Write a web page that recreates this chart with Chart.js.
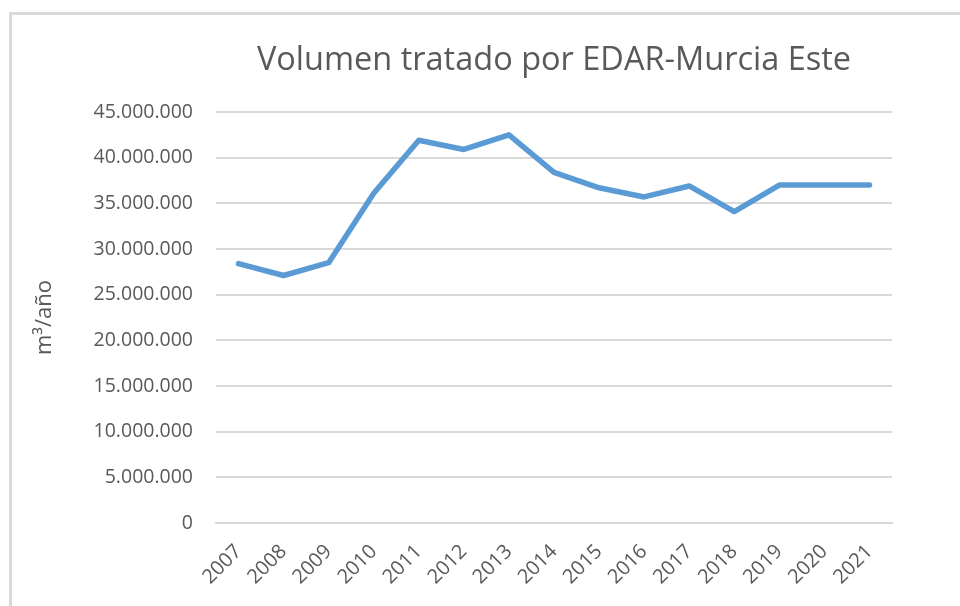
<!DOCTYPE html>
<html lang="es">
<head>
<meta charset="utf-8">
<title>Volumen tratado por EDAR-Murcia Este</title>
<script src="https://cdn.jsdelivr.net/npm/chart.js@4/dist/chart.umd.min.js"></script>
<style>
  html, body { margin: 0; padding: 0; background: #fff; }
  #wrap { position: relative; width: 960px; height: 606px; overflow: hidden; }
  #frame {
    position: absolute; left: 9px; top: 12px; right: -4px; bottom: -4px;
    border-left: 3px solid #d9d9d9; border-top: 3px solid #d9d9d9;
  }
  canvas { position: absolute; left: 0; top: 0; }
</style>
</head>
<body>
<div id="wrap">
  <div id="frame"></div>
  <canvas id="chart" width="960" height="606"></canvas>
</div>
<script>
(function () {
  const years = ['2007', '2008', '2009', '2010', '2011', '2012', '2013', '2014',
    '2015', '2016', '2017', '2018', '2019', '2020', '2021'];

  // m³/año
  const volumes = [28400000, 27100000, 28500000, 36100000, 41900000, 40900000, 42500000,
    38400000, 36700000, 35700000, 36900000, 34100000, 37000000, 37000000, 37000000];

  const yMin = 0;
  const yMax = 45000000;
  const yStep = 5000000;

  const textColor = '#595959';
  const gridColor = '#d9d9d9';
  const lineColor = '#5b9bd5';
  const fontFamily = '"Open Sans", "Noto Sans", sans-serif';

  function formatThousands(value) {
    return String(Math.round(value)).replace(/\B(?=(\d{3})+(?!\d))/g, '.');
  }

  const ctx = document.getElementById('chart');

  new Chart(ctx, {
    type: 'line',
    data: {
      labels: years,
      datasets: [
        {
          label: 'Volumen tratado',
          data: volumes,
          borderColor: lineColor,
          backgroundColor: lineColor,
          borderWidth: 5.5,
          borderJoinStyle: 'round',
          borderCapStyle: 'round',
          pointRadius: 0,
          tension: 0,
        },
      ],
    },
    options: {
      responsive: false,
      animation: false,
      layout: {
        padding: { left: 22, right: 68, top: 10, bottom: 0 },
      },
      plugins: {
        legend: { display: false },
        tooltip: { enabled: false },
        title: {
          display: true,
          text: 'Volumen tratado por EDAR-Murcia Este',
          color: textColor,
          fullSize: false,
          font: { family: fontFamily, size: 32.5, weight: 'normal' },
          padding: { top: 31, bottom: 32 },
        },
      },
      scales: {
        x: {
          offset: true,
          grid: { display: false, drawTicks: false },
          border: { display: true, color: gridColor, width: 2 },
          ticks: {
            color: textColor,
            font: { family: fontFamily, size: 20 },
            minRotation: 45,
            maxRotation: 45,
            padding: 17,
          },
          afterFit: (scale) => { scale.height = 83; },
        },
        y: {
          min: yMin,
          max: yMax,
          border: { display: false },
          grid: { color: gridColor, lineWidth: 2, drawTicks: false },
          ticks: {
            stepSize: yStep,
            color: textColor,
            font: { family: fontFamily, size: 19.5 },
            padding: 23,
            callback: (value) => formatThousands(value),
          },
          title: {
            display: true,
            text: 'm³/año',
            color: textColor,
            font: { family: fontFamily, size: 22 },
            padding: { top: 10, bottom: 0 },
          },
          afterFit: (scale) => { scale.width = 194; },
        },
      },
    },
  });
})();
</script>
</body>
</html>
